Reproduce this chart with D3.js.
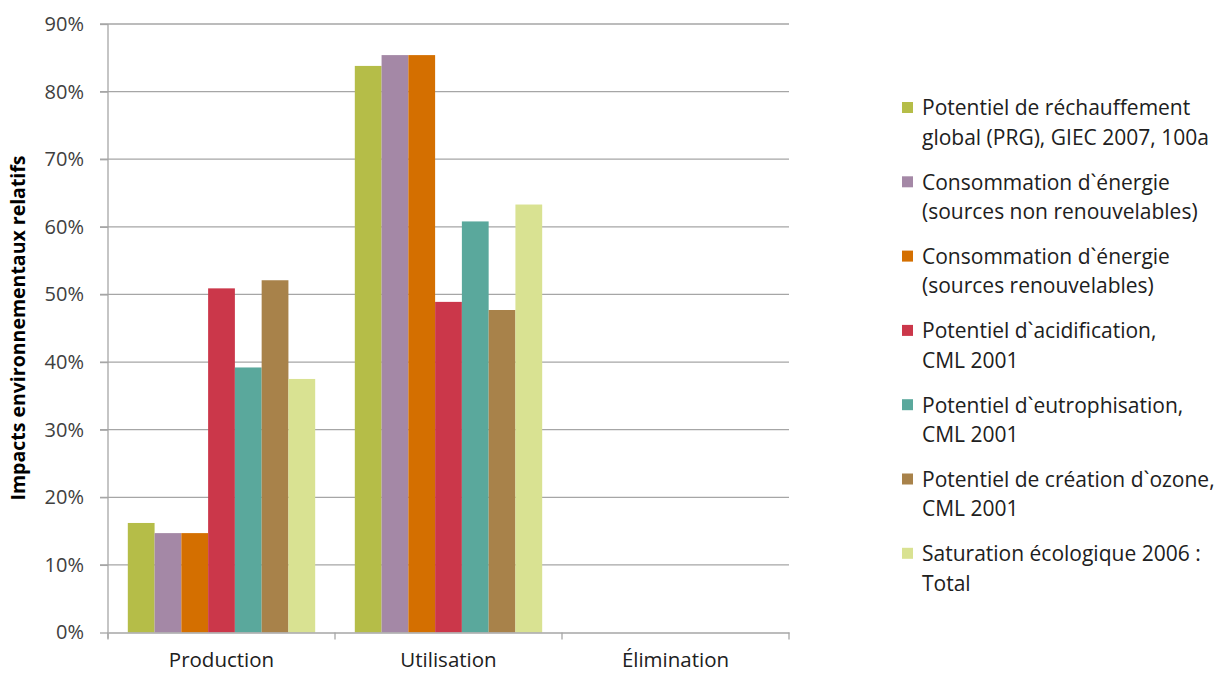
<!DOCTYPE html>
<html><head><meta charset="utf-8">
<script src="https://cdn.jsdelivr.net/npm/d3@7"></script>
<style>body{margin:0;background:#fff;} svg{display:block;}</style>
</head><body><svg id="c" width="1226" height="673"></svg>
<script>
const categories = ["Production", "Utilisation", "Élimination"];
const seriesNames = [
  ["Potentiel de réchauffement", "global (PRG), GIEC 2007, 100a"],
  ["Consommation d`énergie", "(sources non renouvelables)"],
  ["Consommation d`énergie", "(sources renouvelables)"],
  ["Potentiel d`acidification,", "CML 2001"],
  ["Potentiel d`eutrophisation,", "CML 2001"],
  ["Potentiel de création d`ozone,", "CML 2001"],
  ["Saturation écologique 2006 :", "Total"]
];
const colors = ["#b5bd48", "#a488a6", "#d46f00", "#cb374a", "#5aa89c", "#a8824a", "#d9e292"];
const production = [16.2, 14.7, 14.7, 50.9, 39.2, 52.1, 37.5];
const utilisation = [83.8, 85.4, 85.4, 48.9, 60.8, 47.7, 63.3];
const elimination = [0, 0, 0, 0, 0, 0, 0];
const yTicks = [0, 10, 20, 30, 40, 50, 60, 70, 80, 90];

const values = [production, utilisation, elimination];
const svg = d3.select("#c");
const font = "'Open Sans', sans-serif";
const x0 = d3.scaleBand().domain(categories).range([108, 789]).paddingInner(0).paddingOuter(0);
const x1 = d3.scaleBand().domain(d3.range(7)).range([0, x0.bandwidth()]).paddingInner(0).paddingOuter(0.74);
const y = d3.scaleLinear().domain([0, 90]).range([632.5, 24]);

// gridlines
svg.append("g").selectAll("line").data(yTicks.filter(d => d > 0)).join("line")
  .attr("x1", 100).attr("x2", 789).attr("y1", d => y(d)).attr("y2", d => y(d))
  .attr("stroke", "#a6a6a6").attr("stroke-width", 1.3);

// bars
const g = svg.append("g");
categories.forEach((c, ci) => {
  g.append("g").selectAll("rect").data(values[ci]).join("rect")
    .attr("x", (d, i) => x0(c) + x1(i))
    .attr("width", x1.bandwidth())
    .attr("y", d => y(d))
    .attr("height", d => y(0) - y(d))
    .attr("fill", (d, i) => colors[i]);
});

// y axis
const ya = svg.append("g").attr("transform", "translate(108,0)")
  .call(d3.axisLeft(y).tickValues(yTicks).tickFormat(d => d + "%").tickSize(8).tickPadding(16));
ya.select(".domain").attr("stroke", "#a6a6a6").attr("stroke-width", 1.3).attr("d", `M0,${y(90)}V${y(0)+6}`);
ya.selectAll(".tick line").attr("stroke", "#a6a6a6").attr("stroke-width", 1.3);
ya.selectAll(".tick text").attr("font-family", font).attr("font-size", 20).attr("fill", "#404040");

// x axis
const xa = svg.append("g").attr("transform", `translate(0,${y(0)})`)
  .call(d3.axisBottom(x0).tickSize(0).tickPadding(20));
xa.select(".domain").attr("stroke", "#a6a6a6").attr("stroke-width", 1.3);
xa.selectAll(".tick text").attr("font-family", font).attr("font-size", 20.5).attr("fill", "#202020");
const bounds = categories.map(c => x0(c)).concat([x0.range()[1]]);
xa.append("g").selectAll("line").data(bounds).join("line")
  .attr("x1", d => d).attr("x2", d => d).attr("y1", 0).attr("y2", 7)
  .attr("stroke", "#a6a6a6").attr("stroke-width", 1.3);

// y label
svg.append("text").attr("transform", "translate(25,328) rotate(-90)")
  .attr("text-anchor", "middle").attr("font-family", font).attr("font-weight", "bold")
  .attr("font-size", 19.5).attr("fill", "#000").text("Impacts environnementaux relatifs");

// legend
const lg = svg.append("g");
seriesNames.forEach((lines, i) => {
  const top = 108 + i * 74.3;
  lg.append("rect").attr("x", 902).attr("y", top - 6).attr("width", 11).attr("height", 11).attr("fill", colors[i]);
  lines.forEach((t, j) => {
    lg.append("text").attr("x", 922).attr("y", top + j * 29.5).attr("dy", "0.35em")
      .attr("font-family", font).attr("font-size", 21).attr("fill", "#202020").text(t);
  });
});
</script></body></html>
